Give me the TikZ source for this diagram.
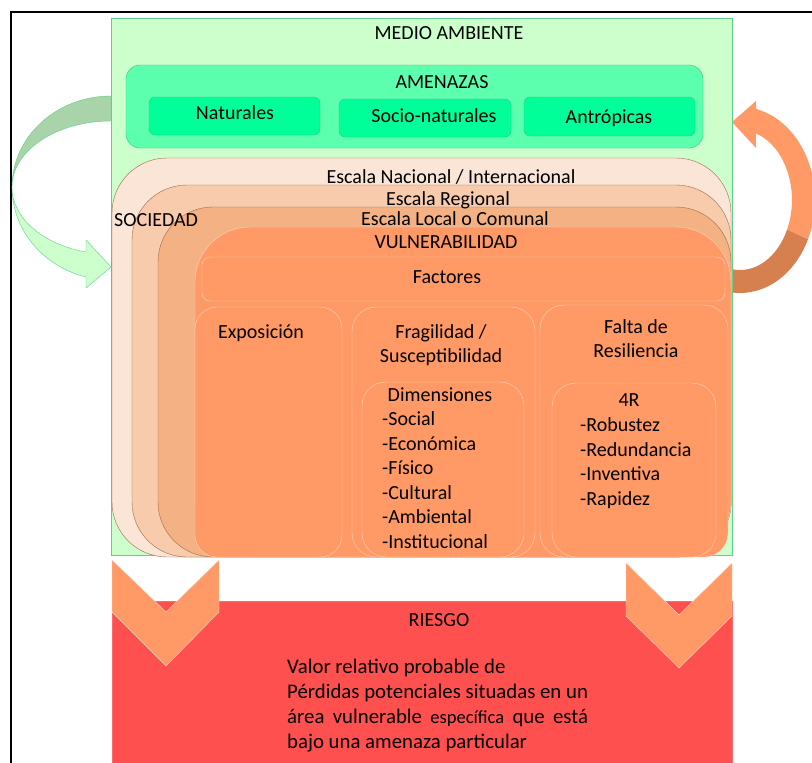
\documentclass[tikz,border=0pt]{standalone}
\usepackage{fontspec}
\usepackage{calc}
\setmainfont{Carlito}

\definecolor{ambiente}{HTML}{CCFFCC}
\definecolor{ambienteborde}{HTML}{5FCF8C}
\definecolor{amenaza}{HTML}{5CFFAE}
\definecolor{amenazatipo}{HTML}{00FF99}
\definecolor{amenazaborde}{HTML}{33C77A}
\definecolor{nacional}{HTML}{FBE5D6}
\definecolor{regional}{HTML}{F8CBAD}
\definecolor{local}{HTML}{F4B183}
\definecolor{vulner}{HTML}{FF9966}
\definecolor{escalaborde}{HTML}{9E6B47}
\definecolor{factorborde}{HTML}{FFD5BF}
\definecolor{riesgo}{HTML}{FF5050}
\definecolor{giroverde}{HTML}{A9D3A9}
\definecolor{giroocre}{HTML}{D7804F}

\tikzset{txt/.style={inner sep=0pt, text height=13pt, text depth=0pt},
    parrafo/.style={txt, anchor=west, font=\fontsize{20.8}{25}\selectfont}}

\begin{document}
\begin{tikzpicture}[x=1pt, y=-1pt, font=\fontsize{20}{24}\selectfont]
\useasboundingbox (0,0) rectangle (812,763);

% Draw the frame
\draw[line width=1.6pt] (11,775) -- (11,12) -- (825,12);

% Define the corner radius of the scales
\def\rad{55pt}

% Draw the turning arrow on the left
\draw[ambienteborde, fill=giroverde] (111,96) arc[start angle=-90, end angle=-180, x radius=99, y radius=91]
    arc[start angle=180, end angle=270, x radius=99, y radius=66] -- cycle;
\draw[ambienteborde, fill=ambiente] (12,187) arc[start angle=180, end angle=104.6, x radius=99, y radius=93]
    -- (86,288) -- (111,267) -- (86,240) -- (86,252)
    arc[start angle=104.6, end angle=180, x radius=99, y radius=67] -- cycle;

% Draw the turning arrow on the right
\fill[vulner] (756,109) arc[start angle=-77.7, end angle=25, x radius=75, y radius=93]
    -- (787.1,229.6) arc[start angle=25, end angle=-72.1, x radius=52, y radius=70]
    -- (756,148) -- (732,122) -- (756,101) -- cycle;
\fill[giroocre] (808,239.3) arc[start angle=25, end angle=96.1, x radius=75, y radius=93]
    -- (732,269.2) arc[start angle=98.8, end angle=25, x radius=52, y radius=70] -- cycle;

% Draw the environment
\draw[ambienteborde, fill=ambiente] (111,18) rectangle (732,555);
\node[txt] (ambiente) at (449,33) {MEDIO AMBIENTE};

% Draw the hazards
\draw[amenazaborde, fill=amenaza, rounded corners=14pt] (126,65) rectangle (703,148);
\node[txt] (amenazas) at (442,82) {AMENAZAS};
\draw[amenazaborde, fill=amenazatipo, rounded corners=6pt] (149,97) rectangle (320,135);
\node[txt] (naturales) at (235,113) {Naturales};
\draw[amenazaborde, fill=amenazatipo, rounded corners=6pt] (339,99) rectangle (511,137);
\node[txt] (socionat) at (434,116) {Socio-naturales};
\draw[amenazaborde, fill=amenazatipo, rounded corners=6pt] (524,97) rectangle (695,136);
\node[txt] (antropicas) at (609,117) {Antrópicas};

% Draw the scales of the society
\draw[escalaborde, fill=nacional, rounded corners=\rad] (112,158) rectangle (731,557);
\draw[escalaborde, fill=regional, rounded corners=\rad] (132,185) rectangle (731,557);
\draw[escalaborde, fill=local, rounded corners=\rad] (158,207) rectangle (731,557);
\draw[factorborde, fill=vulner, rounded corners=\rad] (195,227) rectangle (731,557);
\node[txt] (nacional) at (451,177) {Escala Nacional / Internacional};
\node[txt] (regional) at (448,199) {Escala Regional};
\node[txt] (local) at (455,219) {Escala Local o Comunal};
\node[txt] (vulnerabilidad) at (446,242) {VULNERABILIDAD};
\node[txt, anchor=west] (sociedad) at (114,220) {SOCIEDAD};

% Draw the factors
\draw[factorborde, fill=vulner, rounded corners=8pt] (202,257) rectangle (725,301);
\node[txt] (factores) at (447,277) {Factores};

\draw[factorborde, fill=vulner, rounded corners=22pt] (195,307) rectangle (342,557);
\node[txt] (exposicion) at (261,332) {Exposición};

\draw[factorborde, fill=vulner, rounded corners=24pt] (352,307) rectangle (535,557);
\node[txt] (fragilidad) at (441,332) {Fragilidad /};
\node[txt] (susceptib) at (441,356) {Susceptibilidad};
\draw[factorborde, fill=vulner, rounded corners=24pt] (362,382) rectangle (524,557);
\node[txt] (dimensiones) at (440,395) {Dimensiones};
\foreach \dim [count=\i from 0] in {Social,Económica,Físico,Cultural,Ambiental,Institucional}
    \node[txt, anchor=west] (dim\i) at (382,419+24.6*\i) {-\dim};

\draw[factorborde, fill=vulner, rounded corners=24pt] (540,305) rectangle (728,557);
\node[txt] (falta) at (636,327) {Falta de};
\node[txt] (resiliencia) at (636,351) {Resiliencia};
\draw[factorborde, fill=vulner, rounded corners=24pt] (552,383) rectangle (716,557);
\node[txt] (cuatror) at (629,400) {4R};
\foreach \erre [count=\i from 0] in {Robustez,Redundancia,Inventiva,Rapidez}
    \node[txt, anchor=west] (erre\i) at (580,425+24.5*\i) {-\erre};

% Draw the risk
\draw[riesgo!85!white, fill=riesgo] (112,601) rectangle (732,775);
\node[txt] (riesgo) at (439,620) {RIESGO};
\node[parrafo] (lineaa) at (287,667) {Valor relativo probable de};
\node[parrafo] (lineab) at (287,692) {Pérdidas potenciales situadas en un};
\node[parrafo] (lineac) at (287,717) {\makebox[\widthof{Pérdidas potenciales situadas en un}][s]{área vulnerable {\fontsize{18.5}{20}\selectfont específica} que está}};
\node[parrafo] (linead) at (287,742) {bajo una amenaza particular};

% Draw the chevrons
\draw[factorborde, fill=vulner] (112,560) -- (166,612) -- (219,560) -- (219,612) -- (166,666) -- (112,612) -- cycle;
\draw[factorborde, fill=vulner] (626,563) -- (679,615) -- (732,563) -- (732,616) -- (679,668) -- (626,616) -- cycle;

\end{tikzpicture}
\end{document}
